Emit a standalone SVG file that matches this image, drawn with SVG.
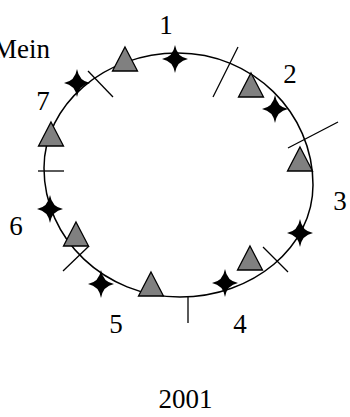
<svg xmlns="http://www.w3.org/2000/svg" width="350" height="417" viewBox="0 0 350 417">
<style>
.lbl{font-family:"Liberation Serif","Times New Roman",serif;font-size:27px;fill:#000}
.tri{fill:#808080;stroke:#000;stroke-width:1.3;stroke-linejoin:miter}
.star{fill:#000}
.tick{stroke:#000;stroke-width:1.3;fill:none}
.ring{fill:none;stroke:#000;stroke-width:1.5}
</style>
<defs>
<path id="tr" d="M0,0 L12.5,24 L-12.5,24 Z"/>
<path id="st" d="M0,-14 Q2,-2 13,0 Q2,2 0,14 Q-2,2 -13,0 Q-2,-2 0,-14 Z"/>
</defs>
<g id="ring">
<path class="ring" d="M178,53 C252,53 313,112 313,185 C313,247 253,297 180,297 C105,297 44,239 44,168 C44,105 104,53 178,53 Z"/>
</g>
<g id="connectors">
<line class="tick" x1="238" y1="47" x2="213" y2="97"/>
<line class="tick" x1="338" y1="122" x2="288" y2="148"/>
<line class="tick" x1="263" y1="247" x2="288" y2="272"/>
<line class="tick" x1="188" y1="296" x2="188" y2="323"/>
<line class="tick" x1="63" y1="271" x2="89" y2="246"/>
<line class="tick" x1="38" y1="171" x2="64" y2="171"/>
<line class="tick" x1="88" y1="71" x2="113" y2="97"/>
</g>
<g id="triangles">
<use href="#tr" class="tri" x="125" y="47"/>
<use href="#tr" class="tri" x="251" y="73"/>
<use href="#tr" class="tri" x="300" y="147"/>
<use href="#tr" class="tri" x="250" y="246"/>
<use href="#tr" class="tri" x="151" y="272"/>
<use href="#tr" class="tri" x="76" y="222"/>
<use href="#tr" class="tri" x="51" y="122"/>
</g>
<g id="stars">
<use href="#st" class="star" x="175" y="59"/>
<use href="#st" class="star" x="275" y="109"/>
<use href="#st" class="star" x="300" y="233"/>
<use href="#st" class="star" x="225" y="283"/>
<use href="#st" class="star" x="101" y="284"/>
<use href="#st" class="star" x="50" y="209"/>
<use href="#st" class="star" x="77" y="83"/>
</g>
<g id="labels">
<text class="lbl" x="-7" y="58">Mein</text>
<text class="lbl" x="166" y="34" text-anchor="middle">1</text>
<text class="lbl" x="290" y="83" text-anchor="middle">2</text>
<text class="lbl" x="340" y="210" text-anchor="middle">3</text>
<text class="lbl" x="240" y="333" text-anchor="middle">4</text>
<text class="lbl" x="116" y="333" text-anchor="middle">5</text>
<text class="lbl" x="16" y="235" text-anchor="middle">6</text>
<text class="lbl" x="43" y="110" text-anchor="middle">7</text>
<text class="lbl" x="185.5" y="408" text-anchor="middle">2001</text>
</g>
</svg>
